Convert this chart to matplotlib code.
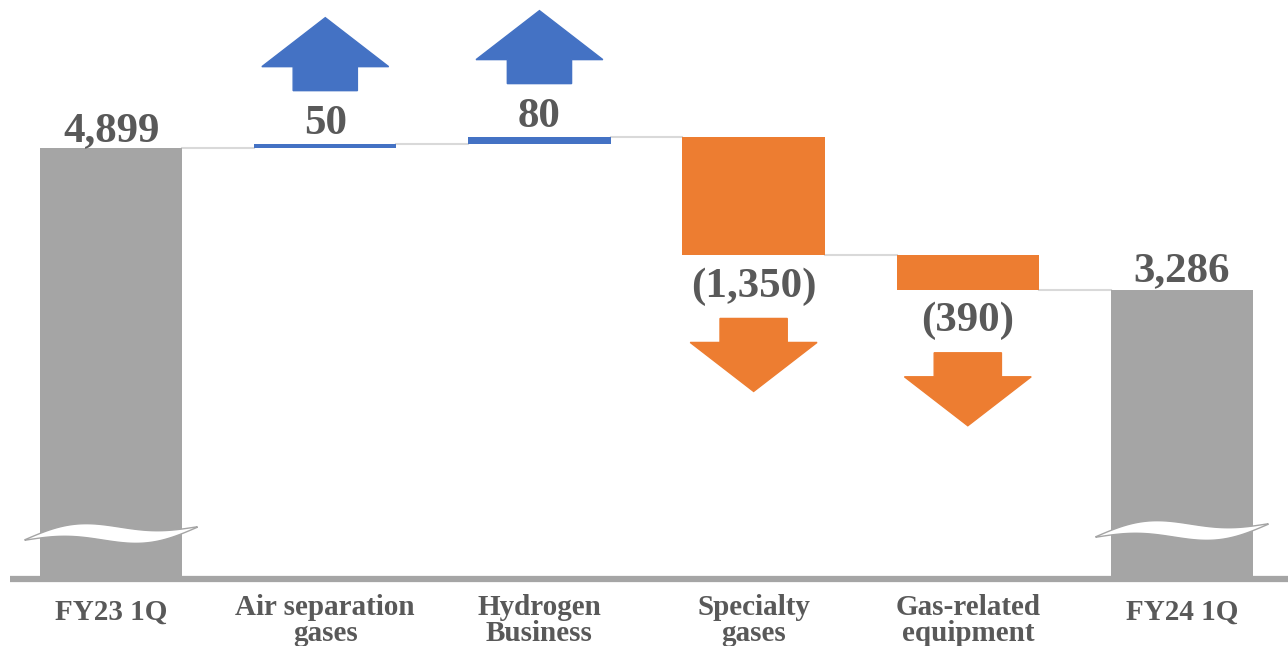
import numpy as np
import matplotlib.pyplot as plt
from matplotlib.patches import Polygon

plt.rcParams['font.family'] = ['Liberation Serif', 'DejaVu Serif']

# data
categories = ["FY23 1Q", "Air separation\ngases", "Hydrogen\nBusiness",
              "Specialty\ngases", "Gas-related\nequipment", "FY24 1Q"]
start_value = 4899
deltas = [50, 80, -1350, -390]
end_value = 3286

gray = "#a5a5a5"
blue = "#4472c4"
orange = "#ed7d31"
text_col = "#595959"
px = 0.08803  # pixels per value unit (for decoration offsets)

fig = plt.figure(figsize=(12.88, 6.46), dpi=100)
ax = fig.add_axes([10 / 1288, (646 - 579.3) / 646, 1 - 10 / 1288, 579.3 / 646])
ax.set_xlim(-0.472, 5.495)
ax.set_ylim(0, 6581)
bw = 0.665

x = np.arange(len(categories))

# totals
ax.bar(x[0], start_value, width=bw, color=gray, zorder=2)
ax.bar(x[-1], end_value, width=bw, color=gray, zorder=2)

# changes
level = start_value
levels = [start_value]
for i, d in enumerate(deltas, start=1):
    bottom = level if d >= 0 else level + d
    col = blue if d >= 0 else orange
    ax.bar(x[i], abs(d), bottom=bottom, width=bw, color=col, zorder=2)
    level += d
    levels.append(level)

# connectors
for i, lv in enumerate(levels):
    ax.plot([x[i] + bw / 2, x[i + 1] - bw / 2], [lv, lv], color="#d9d9d9", lw=1.5, zorder=1)

# labels
ax.text(x[0], start_value + 17 / px, f"{start_value:,}", ha="center", va="center",
        fontsize=31, fontweight="bold", color=text_col)
ax.text(x[-1], end_value + 19 / px, f"{end_value:,}", ha="center", va="center",
        fontsize=31, fontweight="bold", color=text_col)
prev = start_value
for i, d in enumerate(deltas, start=1):
    top = max(prev, prev + d)
    bot = min(prev, prev + d)
    if d >= 0:
        ax.text(x[i], top + 20 / px, f"{d:,}", ha="center", va="center",
                fontsize=31, fontweight="bold", color=text_col)
        y0 = top + 53 / px
        sw, hw, hl, tl = 0.15, 0.296, 49 / px, 73 / px
        pts = [(x[i] - sw, y0), (x[i] + sw, y0), (x[i] + sw, y0 + tl - hl),
               (x[i] + hw, y0 + tl - hl), (x[i], y0 + tl), (x[i] - hw, y0 + tl - hl),
               (x[i] - sw, y0 + tl - hl)]
        ax.add_patch(Polygon(pts, closed=True, color=blue, zorder=3, clip_on=False))
    else:
        ax.text(x[i], bot - 31 / px, f"({abs(d):,})", ha="center", va="center",
                fontsize=31, fontweight="bold", color=text_col)
        y0 = bot - 63 / px
        sw, hw, hl, tl = 0.157, 0.296, 49 / px, 73 / px
        pts = [(x[i] - sw, y0), (x[i] + sw, y0), (x[i] + sw, y0 - tl + hl),
               (x[i] + hw, y0 - tl + hl), (x[i], y0 - tl), (x[i] - hw, y0 - tl + hl),
               (x[i] - sw, y0 - tl + hl)]
        ax.add_patch(Polygon(pts, closed=True, color=orange, zorder=3, clip_on=False))
    prev += d

# break symbols on total bars
t = np.linspace(0, 1, 100)
for xi, shift in [(x[0], 0), (x[-1], 3)]:
    xs = xi - bw / 2 - 0.07 + t * (bw + 0.14)
    mid = 540 - shift - 13 * t - 6 * np.sin(2 * np.pi * t)
    h = 15 * np.sin(np.pi * t) + 0.5
    top_y = (579.3 - (mid - h / 2)) / px
    bot_y = (579.3 - (mid + h / 2)) / px
    poly = np.vstack([np.column_stack([xs, top_y]), np.column_stack([xs[::-1], bot_y[::-1]])])
    ax.add_patch(Polygon(poly, closed=True, facecolor="white", edgecolor=gray, lw=1, zorder=4))

# axis line
ax.axhline(0, color=gray, lw=4.5, zorder=5, clip_on=False, solid_capstyle="butt")

for i, c in enumerate(categories):
    yy = -33 / px if "\n" not in c else -41 / px
    ax.text(x[i], yy, c, ha="center", va="center", fontsize=21, fontweight="bold",
            color=text_col, linespacing=0.93)

ax.set_xticks([])
ax.set_yticks([])
for s in ax.spines.values():
    s.set_visible(False)

fig.savefig("out.png", dpi=100)
